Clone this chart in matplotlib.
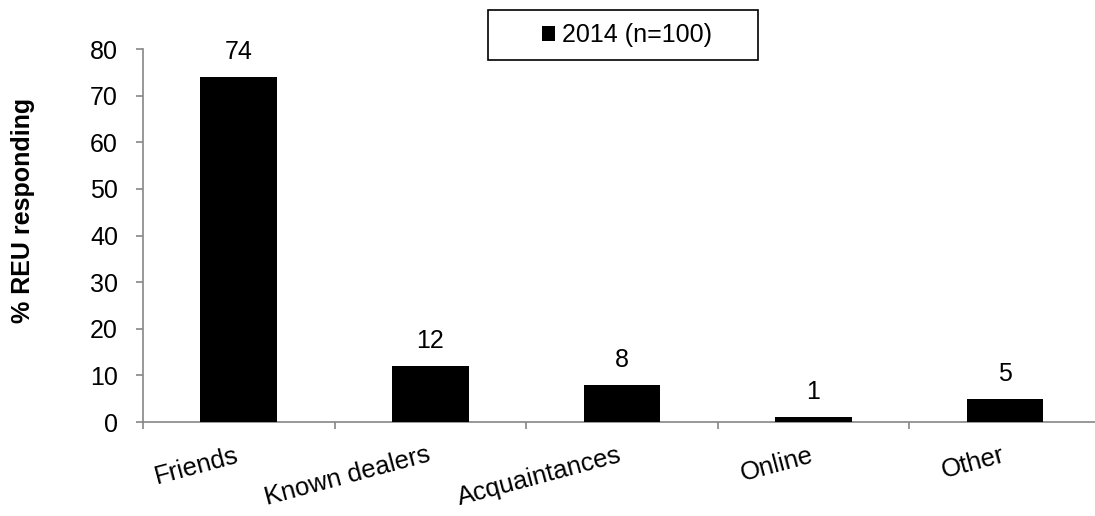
import matplotlib.pyplot as plt
from matplotlib.patches import Rectangle
import numpy as np

plt.rcParams['font.family'] = ['Liberation Sans', 'DejaVu Sans']

categories = ["Friends", "Known dealers", "Acquaintances", "Online", "Other"]
values = [74, 12, 8, 1, 5]
series_name = "2014 (n=100)"

fig = plt.figure(figsize=(10.95, 5.16), dpi=100)
ax = fig.add_axes([0.1306, 0.182, 0.8694, 0.723])

x = np.arange(len(categories))
ax.bar(x, values, width=0.4, color="black", label=series_name, zorder=3)
for xi, v in zip(x, values):
    ax.annotate(str(v), (xi, v), xytext=(0, 13), textcoords="offset points",
                ha="center", va="baseline", fontsize=18)

ax.set_xlim(-0.5, 4.47)
ax.set_ylim(0, 80)
ax.set_yticks(range(0, 81, 10))
ax.tick_params(axis="y", labelsize=18, color="#868686", length=5, width=1.2, pad=13)

# category ticks sit between the categories
ax.set_xticks(np.arange(-0.5, 4.5, 1.0))
ax.set_xticklabels([])
ax.tick_params(axis="x", color="#868686", length=5, width=1.2)
for xi, name in zip(x, categories):
    ax.annotate(name, (xi, 0), xytext=(-3, -15), textcoords="offset points",
                rotation=15, rotation_mode="anchor",
                ha="right", va="top", fontsize=18.5)

for s in ["top", "right"]:
    ax.spines[s].set_visible(False)
for s in ["left", "bottom"]:
    ax.spines[s].set_color("#868686")
    ax.spines[s].set_linewidth(1.2)

ax.set_ylabel("% REU responding", fontsize=18, fontweight="bold")
ax.yaxis.set_label_coords(-0.113, 0.568)

# legend without its own frame, box drawn around it like the original
leg = fig.legend(loc="center", bbox_to_anchor=(626.5 / 1095, 1 - 35 / 516), fontsize=18,
                 frameon=False, handlelength=0.55, handleheight=0.55,
                 handletextpad=0.25, borderpad=0, borderaxespad=0)
fig.add_artist(Rectangle((488 / 1095, 1 - 60 / 516), 270 / 1095, 50 / 516,
                         transform=fig.transFigure, fill=False,
                         edgecolor="black", linewidth=1.2))

fig.savefig("out.png", dpi=100)
